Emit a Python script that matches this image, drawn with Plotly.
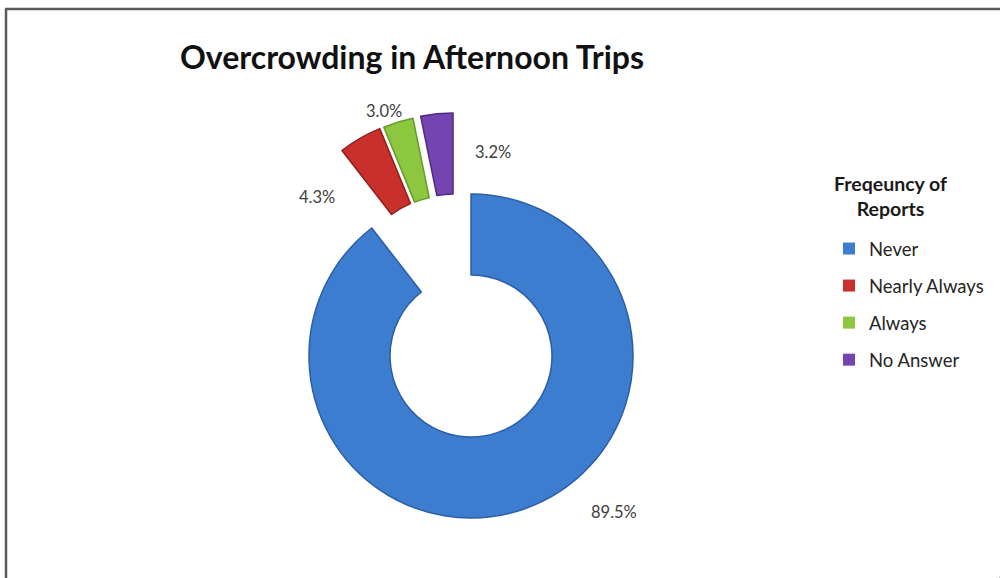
import math
import plotly.graph_objects as go

# Survey shares for afternoon trips
categories = ["Never", "Nearly Always", "Always", "No Answer"]
shares = [89.5, 4.3, 3.0, 3.2]

# Styling
colors = ["#3d7dd0", "#c9302c", "#8dc63f", "#7445b0"]
edge_colors = ["#2b5ea6", "#91201d", "#679a2b", "#4f2c82"]
CLEAR = "rgba(0,0,0,0)"

W, H = 1000, 578
CX, CY = 471, 356        # doughnut centre in px
R = 162                  # outer radius in px
HOLE = 0.5
# explosion of each ring segment: distance (px) and heading (deg clockwise from 12 o'clock)
explode_dist = [0, 83, 83, 83]
explode_dir = [0, 339, 342, 347.5]
# data-label centres in px
label_pos = [(614, 512), (317, 197), (384, 111), (493, 152)]

FONT = "Lato, 'Open Sans', sans-serif"


def px_to_paper(x, y):
    return x / W, 1 - y / H


def square_domain(cx, cy):
    return dict(x=[(cx - R) / W, (cx + R) / W],
                y=[1 - (cy + R) / H, 1 - (cy - R) / H])


fig = go.Figure()

# one ring per segment, so each segment can be shifted on its own
for i, cat in enumerate(categories):
    a = math.radians(explode_dir[i])
    cx = CX + explode_dist[i] * math.sin(a)
    cy = CY - explode_dist[i] * math.cos(a)
    fig.add_trace(go.Pie(
        labels=categories,
        values=shares,
        sort=False,
        direction="clockwise",
        rotation=0,
        hole=HOLE,
        domain=square_domain(cx, cy),
        marker=dict(
            colors=[colors[j] if j == i else CLEAR for j in range(len(categories))],
            line=dict(
                color=[edge_colors[j] if j == i else CLEAR for j in range(len(categories))],
                width=[1.5 if j == i else 0 for j in range(len(categories))],
            ),
        ),
        textinfo="none",
        hoverinfo="skip",
        showlegend=False,
        name=cat,
    ))

# legend entries, one group per category for roomier spacing
for i, cat in enumerate(categories):
    fig.add_trace(go.Pie(
        labels=[cat],
        values=[shares[i]],
        marker=dict(colors=[colors[i]], line=dict(color=edge_colors[i], width=0)),
        domain=dict(x=[0.999, 1.0], y=[0.0, 0.001]),
        textinfo="none",
        hoverinfo="skip",
        legendgroup=f"g{i}",
        showlegend=True,
    ))

# percentage labels
for i, val in enumerate(shares):
    x, y = px_to_paper(*label_pos[i])
    fig.add_annotation(
        x=x, y=y, xref="paper", yref="paper",
        text=f"{val:.1f}%", showarrow=False,
        xanchor="center", yanchor="middle",
        font=dict(family=FONT, size=16.5, color="#404040"),
    )

# legend heading, centred over the entries
hx, hy = px_to_paper(890, 196)
fig.add_annotation(
    x=hx, y=hy, xref="paper", yref="paper",
    text="Freqeuncy of<br>Reports", showarrow=False, align="center",
    xanchor="center", yanchor="middle",
    font=dict(family=FONT, size=19.5, color="#1a1a1a", weight="bold"),
)

# frame along the top and left edges
x0, y0 = px_to_paper(5, 9)
x1, _ = px_to_paper(1000, 9)
_, y1 = px_to_paper(6, 578)
fig.add_shape(type="line", xref="paper", yref="paper", x0=x0, y0=y0, x1=x1, y1=y0,
              line=dict(color="#5a5a5a", width=2.5))
lx, _ = px_to_paper(6, 0)
fig.add_shape(type="line", xref="paper", yref="paper", x0=lx, y0=y0, x1=lx, y1=y1,
              line=dict(color="#5a5a5a", width=2.5))

fig.update_layout(
    width=W, height=H,
    margin=dict(l=0, r=0, t=0, b=0),
    paper_bgcolor="white",
    plot_bgcolor="white",
    title=dict(
        text="Overcrowding in Afternoon Trips",
        x=412 / W, xanchor="center", xref="paper",
        y=1 - 58 / H, yanchor="middle", yref="container",
        font=dict(family=FONT, size=32, color="#111111", weight="bold"),
    ),
    showlegend=True,
    legend=dict(
        x=0.829, xanchor="left",
        y=1 - 230 / H, yanchor="top",
        font=dict(family=FONT, size=18.5, color="#262626"),
        tracegroupgap=10,
        bgcolor="rgba(0,0,0,0)",
    ),
)

fig.write_html("out.html")
